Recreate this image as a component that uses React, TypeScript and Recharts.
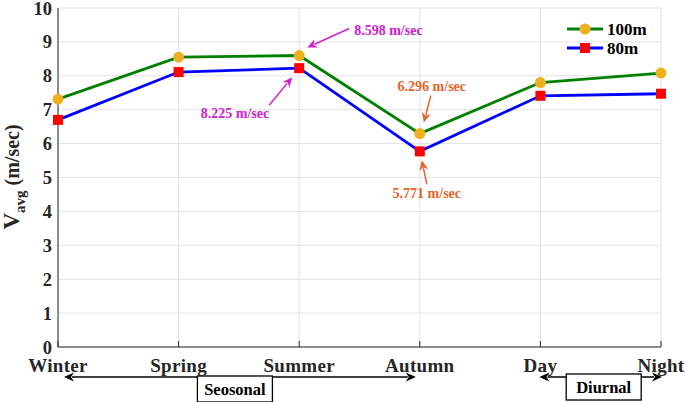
import React from 'react';
import { LineChart, Line, XAxis, YAxis, CartesianGrid, Legend, ReferenceDot, ReferenceLine } from 'recharts';

const periods = ['Winter', 'Spring', 'Summer', 'Autumn', 'Day', 'Night'];
const speed100 = [7.31, 8.55, 8.598, 6.296, 7.8, 8.08];
const speed80 = [6.7, 8.11, 8.225, 5.771, 7.41, 7.47];
const yTicks = [0, 1, 2, 3, 4, 5, 6, 7, 8, 9, 10];

const data = periods.map((p, i) => ({ period: p, h100: speed100[i], h80: speed80[i] }));

const FONT = '"Liberation Serif", "Times New Roman", serif';
const INK = '#262626';
const MAGENTA = '#cc22cc';
const ORANGE = '#e4642c';

// line with a filled triangular head at (x2, y2)
function arrow(x1: number, y1: number, x2: number, y2: number, color: string, key?: string) {
  const a = Math.atan2(y2 - y1, x2 - x1);
  const len = 10, hw = 4.5;
  const bx = x2 - len * Math.cos(a), by = y2 - len * Math.sin(a);
  const px = -Math.sin(a) * hw, py = Math.cos(a) * hw;
  return (
    <g key={key}>
      <line x1={x1} y1={y1} x2={bx + 2 * Math.cos(a)} y2={by + 2 * Math.sin(a)} stroke={color} strokeWidth={1.5} />
      <polygon points={`${x2},${y2} ${bx + px},${by + py} ${bx + 3 * Math.cos(a)},${by + 3 * Math.sin(a)} ${bx - px},${by - py}`} fill={color} />
    </g>
  );
}

const note = (text: string, color: string, tx: number, ty: number, anchor: 'start' | 'middle' | 'end',
  tail: [number, number], head: [number, number]) => (props: any) => {
  const { cx, cy } = props;
  return (
    <g>
      {arrow(cx + tail[0], cy + tail[1], cx + head[0], cy + head[1], color)}
      <text x={cx + tx} y={cy + ty} textAnchor={anchor} fill={color} fontFamily={FONT} fontWeight={700} fontSize={14}>{text}</text>
    </g>
  );
};

const groupBracket = (label: string, dx1: number, dx2: number, boxX: number, boxW: number, boxTop: number, arrowY: number) => (props: any) => {
  const { x1, x2, y1 } = props;
  const y = y1 + arrowY;
  const l = x1 + dx1, r = x2 + dx2;
  const mid = (x1 + x2) / 2 + boxX;
  return (
    <g>
      {arrow(mid, y, l, y, '#000')}
      {arrow(mid, y, r, y, '#000')}
      <rect x={mid - boxW / 2} y={y1 + boxTop} width={boxW} height={26} fill="#fff" stroke="#000" strokeWidth={1.3} />
      <text x={mid} y={y1 + boxTop + 19} textAnchor="middle" fontFamily={FONT} fontWeight={700} fontSize={16.5} fill="#000">{label}</text>
    </g>
  );
};

const RedSquare = (props: any) => {
  const { cx, cy, index } = props;
  return <rect key={index} x={cx - 5} y={cy - 5} width={10} height={10} fill="#ff0000" />;
};

const series = [
  { name: '100m', color: '#008000', marker: 'circle' },
  { name: '80m', color: '#0000ff', marker: 'square' },
];

const LegendBox = () => (
  <svg width={95} height={42}>
    {series.map((s, i) => {
      const y = 10 + i * 19;
      return (
        <g key={s.name}>
          <line x1={2} x2={38} y1={y} y2={y} stroke={s.color} strokeWidth={2.8} />
          {s.marker === 'circle'
            ? <circle cx={20} cy={y} r={5.5} fill="#edb120" />
            : <rect x={15} y={y - 5} width={10} height={10} fill="#ff0000" />}
          <text x={42} y={y + 6} fontFamily={FONT} fontWeight={700} fontSize={17} fill="#000">{s.name}</text>
        </g>
      );
    })}
  </svg>
);

const XTick = ({ x, y, payload }: any) => (
  <text x={x} y={y + 25} textAnchor="middle" fontFamily={FONT} fontWeight={700} fontSize={19} fill={INK} letterSpacing={0.3}>
    {payload.value}
  </text>
);

const YLabel = () => (
  <text transform="rotate(-90)" x={-177} y={19} textAnchor="middle" fontFamily={FONT} fontWeight={700} fill={INK}>
    <tspan fontSize={23}>V</tspan>
    <tspan fontSize={15} dy={6}>avg</tspan>
    <tspan fontSize={20} dy={-6}> (m/sec)</tspan>
  </text>
);

export default function App() {
  return (
    <div style={{ width: 685, height: 402, background: '#fff', position: 'relative' }}>
      <style>{'body{margin:0}'}</style>
      <LineChart width={685} height={402} data={data} margin={{ top: 8, right: 24, bottom: 25, left: 18 }}>
        <CartesianGrid stroke="#e3e3e3" strokeWidth={1} />
        <XAxis dataKey="period" height={30} axisLine={{ stroke: INK }} tickLine={{ stroke: INK }}
          tickSize={-6} tickMargin={6} tick={<XTick />} interval={0} />
        <XAxis xAxisId="top" dataKey="period" orientation="top" height={0} mirror tick={false}
          tickSize={5} axisLine={{ stroke: INK }} tickLine={{ stroke: INK }} />
        <YAxis domain={[0, 10]} ticks={yTicks} interval={0} width={40} tickLine={false} tickMargin={0}
          axisLine={{ stroke: INK }}
          tick={{ fill: INK, fontSize: 18.5, fontWeight: 700, fontFamily: FONT }}
          label={{ content: () => <YLabel /> }} />
        <YAxis yAxisId="r" orientation="right" domain={[0, 10]} ticks={yTicks} width={0} mirror tick={false}
          tickSize={5} axisLine={{ stroke: INK }} tickLine={{ stroke: INK }} />
        <Line dataKey="h100" name="100m" stroke="#008000" strokeWidth={2.8} isAnimationActive={false}
          dot={{ r: 5.5, fill: '#edb120', stroke: 'none' }} />
        <Line dataKey="h80" name="80m" stroke="#0000ff" strokeWidth={2.8} isAnimationActive={false}
          dot={<RedSquare />} />
        <ReferenceDot x="Summer" y={speed100[2]} r={0} ifOverflow="visible"
          shape={note(`${speed100[2]} m/sec`, MAGENTA, 55, -21, 'start', [50, -27], [8, -8])} />
        <ReferenceDot x="Summer" y={speed80[2]} r={0} ifOverflow="visible"
          shape={note(`${speed80[2]} m/sec`, MAGENTA, -30, 50, 'end', [-30, 37], [-7, 9])} />
        <ReferenceDot x="Autumn" y={speed100[3]} r={0} ifOverflow="visible"
          shape={note(`${speed100[3]} m/sec`, ORANGE, 12, -43, 'middle', [11, -38], [4, -11])} />
        <ReferenceDot x="Autumn" y={speed80[3]} r={0} ifOverflow="visible"
          shape={note(`${speed80[3]} m/sec`, ORANGE, 7, 47, 'middle', [7, 33], [2, 9])} />
        <ReferenceLine segment={[{ x: 'Winter', y: 0 }, { x: 'Autumn', y: 0 }]} ifOverflow="visible"
          shape={groupBracket('Seosonal', 6, -4, -4, 75, 29, 30)} />
        <ReferenceLine segment={[{ x: 'Day', y: 0 }, { x: 'Night', y: 0 }]} ifOverflow="visible"
          shape={groupBracket('Diurnal', -1, 1, 3, 75, 27, 30)} />
        <Legend align="center" verticalAlign="middle" content={() => <LegendBox />}
          wrapperStyle={{ top: 19, left: 565, width: 100, height: 42 }} />
      </LineChart>
    </div>
  );
}
